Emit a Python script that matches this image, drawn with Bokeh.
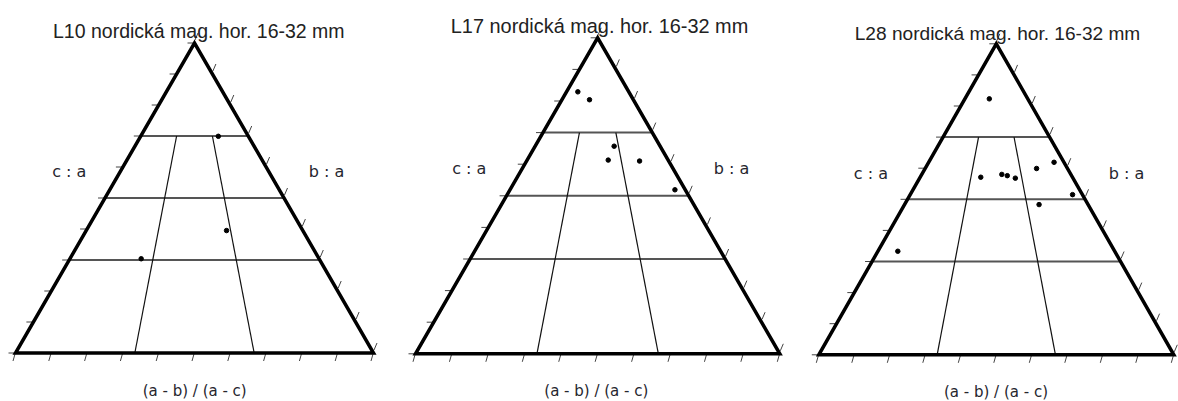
from bokeh.plotting import figure
from bokeh.layouts import row
from bokeh.models import Range1d, Label, ColumnDataSource
from bokeh.embed import file_html
from bokeh.resources import INLINE

# Sneed & Folk shape diagrams: c/a (vertical) and (a-b)/(a-c) (horizontal)
titles = [
    "L10 nordická mag. hor. 16-32 mm",
    "L17 nordická mag. hor. 16-32 mm",
    "L28 nordická mag. hor. 16-32 mm",
]

l10_ab_ac = [0.721, 0.648, 0.286]
l10_c_a = [0.699, 0.395, 0.304]

l17_ab_ac = [0.182, 0.386, 0.632, 0.575, 0.795, 0.941]
l17_c_a = [0.829, 0.804, 0.657, 0.613, 0.610, 0.519]

l28_ab_ac = [0.389, 0.398, 0.537, 0.573, 0.624, 0.783, 0.927, 0.943, 0.733, 0.084]
l28_c_a = [0.823, 0.571, 0.580, 0.576, 0.568, 0.599, 0.619, 0.515, 0.483, 0.333]

series = [(l10_ab_ac, l10_c_a), (l17_ab_ac, l17_c_a), (l28_ab_ac, l28_c_a)]

# class boundaries of the diagram
ca_bounds = [0.7, 0.5, 0.3]
ratio_bounds = [1 / 3, 2 / 3]
tick_values = [i / 10 for i in range(11)]

left_label = "c : a"
right_label = "b : a"
bottom_label = "(a - b) / (a - c)"

FIG_H = 401
TXT = "#26262e"

# frame layout of each panel (pixels)
layout = [
    dict(fw=396, off=0, L=15.0, W=358.0, B=352.5, H=310.0,
         title=(198.3, 30.5, 19.5), ca=(51.7, 170.7), ba=(308.3, 170.7), bot=(194.2, 390.5)),
    dict(fw=401, off=396, L=19.0, W=364.3, B=353.3, H=316.0,
         title=(599.0, 25.5, 19.9), ca=(451.7, 167.7), ba=(713.3, 167.7), bot=(595.8, 390.5)),
    dict(fw=381, off=797, L=21.3, W=355.0, B=354.3, H=311.0,
         title=(997.0, 32.8, 19.1), ca=(853.3, 173.3), ba=(1108.3, 173.3), bot=(995.5, 391.0)),
]


def to_xy(ratio, ca):
    # ternary position -> plane (base from 0 to 1, apex at y = 1)
    return ca / 2 + ratio * (1 - ca), ca


figs = []
for title, (ratios, cas), g in zip(titles, series, layout):
    W, H, L, B, fw = g["W"], g["H"], g["L"], g["B"], g["fw"]
    px = 1.0 / W
    py = 1.0 / H
    p = figure(width=fw, height=FIG_H, output_backend="svg", toolbar_location=None,
               x_range=Range1d(-L / W, (fw - L) / W),
               y_range=Range1d(-(FIG_H - B) / H, B / H),
               x_axis_type=None, y_axis_type=None, min_border=0,
               background_fill_color="white", border_fill_color="white")
    p.outline_line_color = None
    p.xgrid.visible = False
    p.ygrid.visible = False

    # ticks
    lt_x, lt_y, rt_x, rt_y, bt_x, bt_y = [], [], [], [], [], []
    for t in tick_values:
        ex, ey = to_xy(0.0, t)
        lt_x.append([ex - 7 * px, ex])
        lt_y.append([ey, ey])
        ex, ey = to_xy(1.0, t)
        rt_x.append([ex + 0.5 * px, ex + 3.5 * px])
        rt_y.append([ey + 3 * py, ey + 10 * py])
        bt_x.append([t - 2.5 * px, t - 0.5 * px])
        bt_y.append([-8 * py, -1 * py])
    p.multi_line(lt_x + rt_x + bt_x, lt_y + rt_y + bt_y, line_color="#444444", line_width=1)

    # horizontal c/a boundaries
    hx, hy = [], []
    for c in ca_bounds:
        x0, _ = to_xy(0.0, c)
        x1, _ = to_xy(1.0, c)
        hx.append([x0, x1])
        hy.append([c, c])
    p.multi_line(hx, hy, line_color="#555555", line_width=2)

    # (a-b)/(a-c) boundaries below c/a = 0.7
    vx, vy = [], []
    for r in ratio_bounds:
        xa, ya = to_xy(r, ca_bounds[0])
        xb, yb = to_xy(r, 0.0)
        vx.append([xa, xb])
        vy.append([ya, yb])
    p.multi_line(vx, vy, line_color="#111111", line_width=1.2)

    # triangle outline
    cx, cy = zip(*[to_xy(0.0, 0.0), to_xy(1.0, 0.0), to_xy(0.0, 1.0)])
    p.patch(list(cx), list(cy), fill_alpha=0, line_color="black", line_width=3.5,
            line_join="miter")

    # samples
    pts = [to_xy(r, c) for r, c in zip(ratios, cas)]
    src = ColumnDataSource(dict(x=[q[0] for q in pts], y=[q[1] for q in pts]))
    p.scatter("x", "y", source=src, size=4.5, color="black")

    off = g["off"]
    tx, ty, ts = g["title"]
    p.add_layout(Label(x=tx - off, y=FIG_H - ty, x_units="screen", y_units="screen",
                       text=title, text_align="center", text_baseline="alphabetic",
                       text_font="Liberation Sans", text_font_size=f"{ts}px",
                       text_color="#222222"))
    for key, txt, align, size in (("ca", left_label, "left", "16px"),
                                  ("ba", right_label, "left", "16px"),
                                  ("bot", bottom_label, "center", "15px")):
        lx, ly = g[key]
        p.add_layout(Label(x=lx - off, y=FIG_H - ly, x_units="screen", y_units="screen",
                           text=txt, text_align=align, text_baseline="alphabetic",
                           text_font="DejaVu Sans", text_font_size=size,
                           text_color=TXT))
    figs.append(p)

page = row(*figs, spacing=0)
open("out.html", "w").write(file_html(page, INLINE))
